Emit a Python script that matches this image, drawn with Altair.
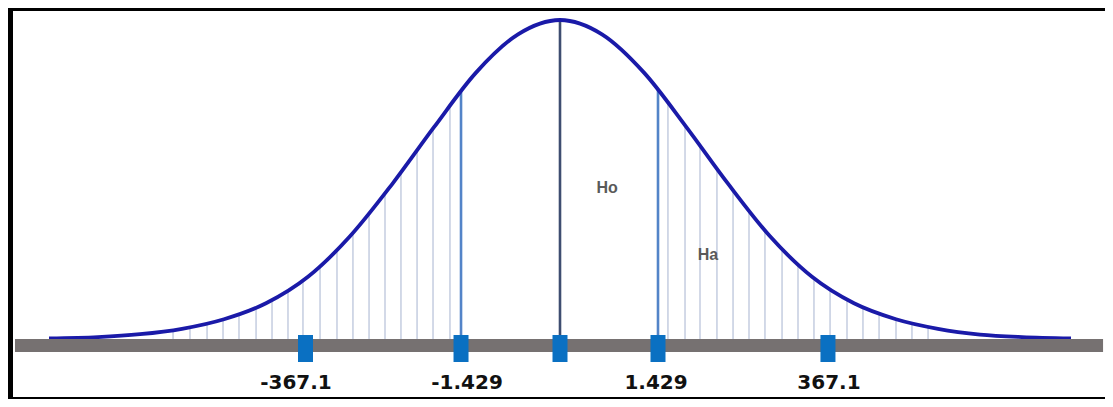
import altair as alt
import pandas as pd

# ---- data (x in standard-deviation units, y as share of peak height)
curve_z = [-3.65, -3.3, -3.0, -2.7, -2.4, -2.1, -1.8, -1.5, -1.2, -0.9, -0.6, -0.3, 0.0,
           0.3, 0.6, 0.9, 1.2, 1.5, 1.8, 2.1, 2.4, 2.7, 3.0, 3.3, 3.65]
curve_d = [0.002, 0.006, 0.015, 0.032, 0.062, 0.112, 0.195, 0.322, 0.485, 0.664, 0.835, 0.955, 1.0,
           0.955, 0.835, 0.666, 0.487, 0.322, 0.195, 0.112, 0.062, 0.032, 0.014, 0.006, 0.002]

hatch_left = [-2.764, -2.643, -2.521, -2.407, -2.293, -2.171, -2.057, -1.943, -1.836,
              -1.714, -1.593, -1.479, -1.364, -1.25, -1.136, -1.021, -0.907, -0.786]
hatch_right = [0.771, 0.893, 1.0, 1.121, 1.236, 1.35, 1.464, 1.586, 1.7, 1.814, 1.929,
               2.05, 2.164, 2.279, 2.4, 2.514, 2.629]

crit_z = [-0.707, 0.7]
center_z = [0.0]

marker_z = [-1.818, -0.707, 0.0, 0.7, 1.914]

label_text = ["-367.1", "-1.429", "1.429", "367.1"]
label_z = [-1.886, -0.664, 0.686, 1.921]

region_text = ["Ho", "Ha"]
region_z = [0.336, 1.057]
region_d = [0.473, 0.264]

bar_start, bar_end = -3.893, 3.879

# ---- tables
curve = pd.DataFrame({"z": curve_z, "d": curve_d})
hatch = pd.DataFrame({"z": hatch_left + hatch_right})
crit = pd.DataFrame({"z": crit_z})
center = pd.DataFrame({"z": center_z})
markers = pd.DataFrame({"z": marker_z})
labels = pd.DataFrame({"z": label_z, "t": label_text})
regions = pd.DataFrame({"z": region_z, "d": region_d, "t": region_text})
bar = pd.DataFrame({"a": [bar_start], "b": [bar_end]})

W, H = 1097, 391
xs = alt.Scale(domain=[-4, 4], range=[-8, 1112], nice=False, zero=False)
ys = alt.Scale(domain=[0, 1], range=[331, 12], nice=False, zero=False)

X = alt.X("z:Q", scale=xs, axis=None)

def rules(df, color, width):
    return alt.Chart(df).mark_rule(color=color, strokeWidth=width).encode(
        x=X,
        y=alt.YDatum(0, scale=ys, axis=None),
        y2=alt.Y2Datum(1.0),
    )

hatch_layer = rules(hatch, "#c8d0e2", 1.6)
crit_layer = rules(crit, "#5384c8", 2.6)
center_layer = rules(center, "#3e4d70", 2.6)

mask = alt.Chart(curve).mark_area(color="white", interpolate="monotone").encode(
    x=X,
    y=alt.Y("d:Q", scale=ys, axis=None),
    y2=alt.Y2Datum(1.3),
)

line = alt.Chart(curve).mark_line(
    color="#1a1aa8", strokeWidth=3.8, interpolate="monotone"
).encode(x=X, y=alt.Y("d:Q", scale=ys, axis=None))

gray_bar = alt.Chart(bar).mark_rect(color="#767171").encode(
    x=alt.X("a:Q", scale=xs, axis=None),
    x2="b:Q",
    y=alt.value(331),
    y2=alt.value(344),
)

marker_layer = alt.Chart(markers).mark_rect(color="#0a70c2", width=15).encode(
    x=X,
    y=alt.value(327),
    y2=alt.value(354),
)

label_layer = alt.Chart(labels).mark_text(
    font="DejaVu Sans", fontSize=20, fontWeight="bold", color="#111111",
    align="center", baseline="alphabetic",
).encode(x=X, y=alt.value(381), text="t:N")

region_layer = alt.Chart(regions).mark_text(
    font="Liberation Sans", fontSize=16, fontWeight="bold", color="#5a5a5a",
    align="center", baseline="middle",
).encode(x=X, y=alt.Y("d:Q", scale=ys, axis=None), text="t:N")

border_left = alt.Chart(bar).mark_rect(color="black").encode(
    x=alt.value(0), x2=alt.value(5), y=alt.value(0), y2=alt.value(H))
border_top = alt.Chart(bar).mark_rect(color="black").encode(
    x=alt.value(0), x2=alt.value(W), y=alt.value(0), y2=alt.value(3))
border_bottom = alt.Chart(bar).mark_rect(color="black").encode(
    x=alt.value(0), x2=alt.value(W), y=alt.value(389), y2=alt.value(H))

chart = alt.layer(
    hatch_layer, crit_layer, center_layer, mask, line, gray_bar, marker_layer,
    label_layer, region_layer, border_left, border_top, border_bottom,
).properties(
    width=W, height=H, padding=0, autosize=alt.AutoSizeParams(type="none"),
    background="white",
).configure_view(stroke=None)

chart.save("out.html", embed_options={"renderer": "svg", "actions": False})
